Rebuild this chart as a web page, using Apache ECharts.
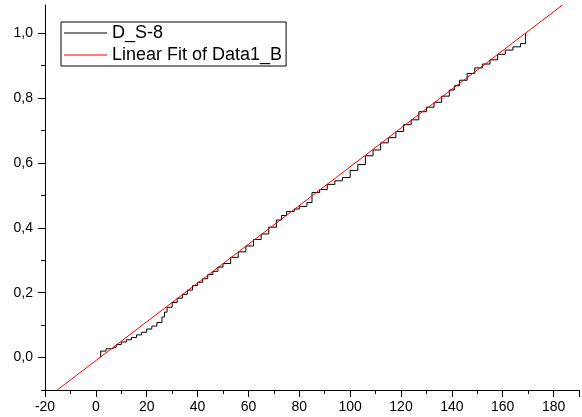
<!DOCTYPE html>
<html>
<head>
<meta charset="utf-8">
<script src="https://cdn.jsdelivr.net/npm/echarts@6/dist/echarts.min.js"></script>
<style>
  html, body { margin: 0; padding: 0; background: #fff; }
  #main { width: 582px; height: 417px; }
</style>
</head>
<body>
<div id="main"></div>
<script>
// cumulative data (step curve)
var dataX = [1.9, 1.9, 4, 6, 8, 10, 12, 14, 16, 18, 20, 22, 24, 26, 27, 28, 30, 32, 34, 36, 38,
  40, 42, 44, 46, 48, 50, 53, 56, 59, 62, 65, 68, 71, 73, 75, 78, 80, 83, 85, 88,
  91, 94, 97, 100, 103, 106, 109, 112, 115, 118, 121, 124, 127, 130, 133, 136, 139,
  141, 143, 146, 149, 152, 155, 158, 161, 164, 167, 169, 169];
var dataY = [0.000, 0.020, 0.027, 0.032, 0.040, 0.048, 0.055, 0.062, 0.070, 0.078, 0.088, 0.097,
  0.108, 0.125, 0.140, 0.155, 0.170, 0.183, 0.195, 0.208, 0.222,
  0.232, 0.243, 0.256, 0.266, 0.279, 0.290, 0.309, 0.326, 0.344, 0.364, 0.381, 0.402,
  0.424, 0.438, 0.450, 0.458, 0.466, 0.478, 0.509, 0.518,
  0.534, 0.545, 0.555, 0.577, 0.595, 0.622, 0.640, 0.662, 0.678, 0.697, 0.718, 0.733,
  0.758, 0.772, 0.787, 0.806, 0.825, 0.838, 0.855, 0.876, 0.893, 0.905, 0.918, 0.935,
  0.948, 0.958, 0.968, 0.978, 1.000];

// linear fit end points
var fitX = [-15.2, 183.5];
var fitY = [-0.1, 1.087];

var yMajor = [0, 0.2, 0.4, 0.6, 0.8, 1.0];
var yMinor = [-0.1, 0.1, 0.3, 0.5, 0.7, 0.9];

function pairs(xs, ys) {
  var out = [];
  for (var i = 0; i < xs.length; i++) out.push([xs[i], ys[i]]);
  return out;
}

var chart = echarts.init(document.getElementById('main'));

var option = {
  animation: false,
  backgroundColor: '#fff',
  grid: { left: 45, right: 0, top: 5, bottom: 27 },
  legend: {
    orient: 'vertical',
    left: 61,
    top: 22,
    padding: [2, 4, 2, 3],
    borderColor: '#000',
    borderWidth: 1,
    borderRadius: 0,
    itemWidth: 43,
    itemHeight: 1,
    itemGap: 4,
    icon: 'rect',
    textStyle: { color: '#000', fontSize: 18, lineHeight: 18, fontFamily: 'Liberation Sans, Arial, sans-serif' },
    data: ['D_S-8', 'Linear Fit of Data1_B']
  },
  xAxis: {
    type: 'value',
    min: -20,
    max: 190,
    interval: 20,
    axisLine: { show: true, onZero: false, lineStyle: { color: '#000', width: 1 } },
    axisTick: { show: true, inside: false, length: 7, lineStyle: { color: '#000' } },
    minorTick: { show: true, splitNumber: 2, length: 4, lineStyle: { color: '#000' } },
    axisLabel: {
      color: '#000', fontSize: 14, margin: 10,
      fontFamily: 'Liberation Sans, Arial, sans-serif',
      formatter: function (v) { return v > 180 ? '' : String(v); }
    },
    splitLine: { show: false }
  },
  yAxis: [{
    type: 'value',
    min: -0.1,
    max: 1.087,
    position: 'left',
    axisLine: { show: true, onZero: false, lineStyle: { color: '#000', width: 1 } },
    axisTick: { show: true, inside: false, length: 7, customValues: yMajor, lineStyle: { color: '#000' } },
    axisLabel: {
      color: '#000', fontSize: 14, margin: 12,
      fontFamily: 'Liberation Sans, Arial, sans-serif',
      customValues: yMajor,
      formatter: function (v) { return v.toFixed(1).replace('.', ','); }
    },
    splitLine: { show: false }
  }, {
    type: 'value',
    min: -0.1,
    max: 1.087,
    position: 'left',
    axisLine: { show: false, onZero: false },
    axisTick: { show: true, inside: false, length: 4, customValues: yMinor, lineStyle: { color: '#000' } },
    axisLabel: { show: false },
    splitLine: { show: false }
  }],
  series: [
    {
      name: 'D_S-8',
      type: 'line',
      step: 'end',
      showSymbol: false,
      color: '#000',
      lineStyle: { color: '#000', width: 1 },
      data: pairs(dataX, dataY)
    },
    {
      name: 'Linear Fit of Data1_B',
      type: 'line',
      showSymbol: false,
      color: '#ff0000',
      lineStyle: { color: '#ff0000', width: 1 },
      data: pairs(fitX, fitY)
    }
  ]
};

chart.setOption(option);
</script>
</body>
</html>
